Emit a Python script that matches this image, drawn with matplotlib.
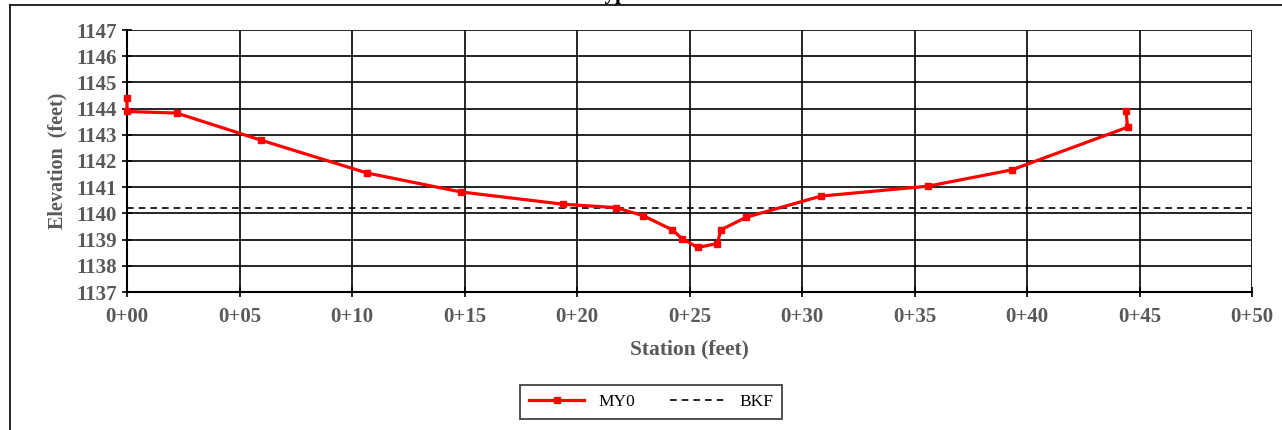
import matplotlib.pyplot as plt
from matplotlib.lines import Line2D

# surveyed cross section, MY0
station = [0.0, 0.0, 2.21, 5.94, 10.68, 14.83, 19.39, 21.72, 22.95, 24.24, 24.68,
           25.36, 26.24, 26.39, 27.51, 30.84, 35.61, 39.32, 44.47, 44.40]
elev = [1144.40, 1143.89, 1143.83, 1142.80, 1141.54, 1140.82, 1140.35, 1140.22,
        1139.91, 1139.37, 1139.03, 1138.70, 1138.85, 1139.37, 1139.85, 1140.66,
        1141.04, 1141.66, 1143.29, 1143.90]
bkf_elev = 1140.21
bkf_station = [0, 50]
xticks = [0, 5, 10, 15, 20, 25, 30, 35, 40, 45, 50]
xlabels = ["0+%02d" % v for v in xticks]
yticks = list(range(1137, 1148))

plt.rcParams['font.family'] = ['Liberation Serif', 'DejaVu Serif']
gray = '#595959'

fig = plt.figure(figsize=(12.82, 4.30), dpi=100)
ax = fig.add_axes([127/1282, 1 - 292/430, 1125/1282, 262/430])

ax.plot(station, elev, color='#ff0000', lw=2.3, marker='s', ms=4.5,
        label='MY0', zorder=3, clip_on=False)
ax.plot(bkf_station, [bkf_elev, bkf_elev], color='black', lw=1.2,
        ls=(0, (4, 3)), label='BKF', zorder=2)

ax.set_xlim(0, 50)
ax.set_ylim(1137, 1147)
ax.set_xticks(xticks)
ax.set_xticklabels(xlabels)
ax.set_yticks(yticks)
ax.grid(True, color='black', lw=1.2)
ax.set_axisbelow(True)
for s in ['top', 'right']:
    ax.spines[s].set_visible(False)
for s in ['left', 'bottom']:
    ax.spines[s].set_linewidth(1.5)
ax.tick_params(direction='inout', length=7, width=1.2, labelsize=15,
               labelcolor=gray)
for lab in ax.get_xticklabels() + ax.get_yticklabels():
    lab.set_fontweight('bold')
ax.tick_params(axis='x', pad=7)
ax.tick_params(axis='y', pad=4)
ax.set_xlabel('Station (feet)', fontsize=15.5, fontweight='bold', color=gray,
              labelpad=9)
ax.set_ylabel('Elevation  (feet)', fontsize=14.5, fontweight='bold', color=gray,
              labelpad=6)

leg = fig.legend(loc='center', bbox_to_anchor=(651/1282, 1 - 402/430), ncol=2,
                 frameon=True, fancybox=False, fontsize=12.5, handlelength=3.2,
                 columnspacing=2.0, borderpad=0.5)
leg.get_frame().set_edgecolor('black')
leg.get_frame().set_linewidth(1.2)

# title is mostly cut off at the top of the picture
fig.text(592/1282, 1 + 1/430, 'Typical Cross Section', fontsize=15,
         fontweight='bold', va='baseline', ha='left')

# outer chart border
fig.add_artist(Line2D([10/1282, 10/1282], [0, 1 - 5/430], color='black', lw=1.2,
                      transform=fig.transFigure))
fig.add_artist(Line2D([10/1282, 1], [1 - 5/430, 1 - 5/430], color='black', lw=1.2,
                      transform=fig.transFigure))

fig.savefig('out.png', dpi=100)
